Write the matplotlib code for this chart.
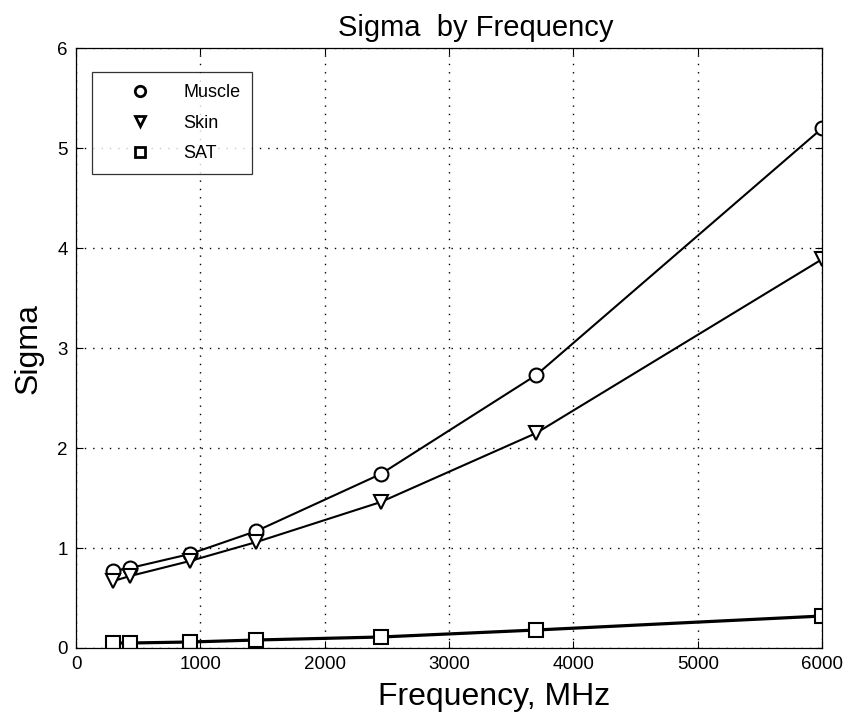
import matplotlib
matplotlib.use("Agg")
import matplotlib.pyplot as plt
from matplotlib.lines import Line2D

plt.rcParams['font.family'] = ['Liberation Sans', 'DejaVu Sans']

freq = [300, 434, 915, 1450, 2450, 3700, 6000]
muscle = [0.77, 0.80, 0.94, 1.17, 1.74, 2.73, 5.20]
skin = [0.67, 0.72, 0.87, 1.06, 1.46, 2.15, 3.89]
sat = [0.05, 0.05, 0.06, 0.08, 0.11, 0.18, 0.32]

series = [("Muscle", muscle, "o"), ("Skin", skin, "v"), ("SAT", sat, "s")]

fig = plt.figure(figsize=(8.45, 7.2), dpi=100)
ax = fig.add_axes([0.090, 0.100, 0.883, 0.833])

handles = []
for name, vals, mk in series:
    lw = 2.3 if name == "SAT" else 1.5
    ax.plot(freq, vals, color="black", linewidth=lw, marker=mk, markersize=10,
            markerfacecolor="white", markeredgecolor="black", markeredgewidth=1.5)
    handles.append(Line2D([], [], linestyle="none", marker=mk, markersize=7.5,
                          markerfacecolor="white", markeredgecolor="black",
                          markeredgewidth=2, label=name))

ax.set_xlim(0, 6000)
ax.set_ylim(0, 6)
ax.set_xticks(range(0, 6001, 1000))
ax.set_yticks(range(0, 7))
ax.grid(True, color="black", linestyle=(0, (1, 5)), linewidth=1)
ax.tick_params(direction="in", length=5, labelsize=13.5, top=True, right=True, pad=6)
for s in ax.spines.values():
    s.set_linewidth(0.9)

# MATLAB-ish text placement (labels sit slightly right of centre)
ax.set_title("Sigma  by Frequency", fontsize=21, pad=9, x=0.536)
ax.set_xlabel("Frequency, MHz", fontsize=23, labelpad=6, x=0.56)
ax.set_ylabel("Sigma", fontsize=23, labelpad=10)

leg = ax.legend(handles=handles, loc="upper left", fontsize=13, frameon=True,
                fancybox=False, edgecolor="black", borderpad=0.65,
                handlelength=4.0, handletextpad=0.4, labelspacing=0.75,
                borderaxespad=0, bbox_to_anchor=(0.0214, 0.96))
leg.get_frame().set_linewidth(0.9)

fig.savefig("out.png", dpi=100)
